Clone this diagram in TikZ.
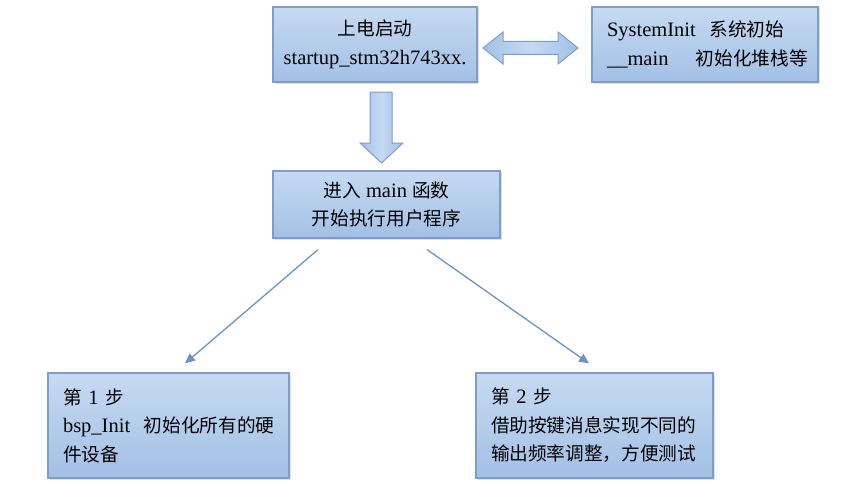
\documentclass[tikz,border=0pt]{standalone}
\usepackage{fontspec}
\setmainfont{Liberation Serif}
\newfontfamily\cjk[Scale=0.91]{Noto Sans CJK SC}
\usetikzlibrary{shadows,arrows.meta}
\definecolor{boxtop}{HTML}{C6DAF2}
\definecolor{boxbot}{HTML}{A2C0E5}
\definecolor{boxline}{HTML}{7E9DC8}
\definecolor{linkcol}{HTML}{6F93BF}

\begin{document}
\begin{tikzpicture}[x=1pt,y=-1pt]
        \tikzstyle{box} = [draw=boxline,line width=1.2pt,top color=boxtop,bottom color=boxbot,
          drop shadow={shadow xshift=1.5pt,shadow yshift=-1.5pt,opacity=0.25},
          font=\fontsize{20.5}{28.5}\selectfont,align=center,inner sep=0pt]
        \tikzstyle{stepbox} = [box,align=left,inner xsep=15pt]
        \tikzstyle{blockarrow} = [draw=boxline,line width=1pt,left color=boxbot,right color=boxbot,middle color=boxtop]
        \tikzstyle{link} = [draw=linkcol,line width=1.3pt,-{Triangle[length=10pt,width=9pt]}]
        \useasboundingbox (0,0) rectangle (842,487);
        \node(start)[box,minimum width=204pt,minimum height=75pt] at (375,44.5)
          {{\cjk 上电启动}\\startup\_stm32h743xx.};
        \node(sysinit)[stepbox,text width=196pt,minimum height=75pt] at (705,44.5)
          {\mbox{SystemInit~~{\cjk 系统初始}}\\\mbox{\_\_main~~~~{\cjk 初始化堆栈等}}};
        \node(main)[box,minimum width=227pt,minimum height=67pt] at (386.5,204.5)
          {{\cjk 进入} main {\cjk 函数}\\{\cjk 开始执行用户程序}};
        \node(step1)[stepbox,text width=211pt,minimum height=105pt] at (168.5,425.5)
          {{\cjk 第}~1~{\cjk 步}\\\mbox{bsp\_Init~~{\cjk 初始化所有的硬}}\\{\cjk 件设备}};
        \node(step2)[stepbox,text width=207pt,minimum height=105pt] at (594.5,425.5)
          {{\cjk 第}~2~{\cjk 步}\\{\cjk 借助按键消息实现不同的}\\{\cjk 输出频率调整，方便测试}};
        % block arrows
        \path[blockarrow] (370,92) -- (392,92) -- (392,143) -- (403,143) -- (381.5,163)
          -- (360,143) -- (370,143) -- cycle;
        \path[blockarrow] (483,48) -- (503,32) -- (503,41.5) -- (558,41.5) -- (558,32)
          -- (578,48) -- (558,64) -- (558,54.5) -- (503,54.5) -- (503,64) -- cycle;
        \draw[link] ([xshift=-68.5pt,yshift=-11pt]main.south) -- ([xshift=16.5pt,yshift=9pt]step1.north);
        \draw[link] ([xshift=40.5pt,yshift=-11pt]main.south) -- ([xshift=-5.5pt,yshift=9pt]step2.north);
      \end{tikzpicture}
\end{document}
